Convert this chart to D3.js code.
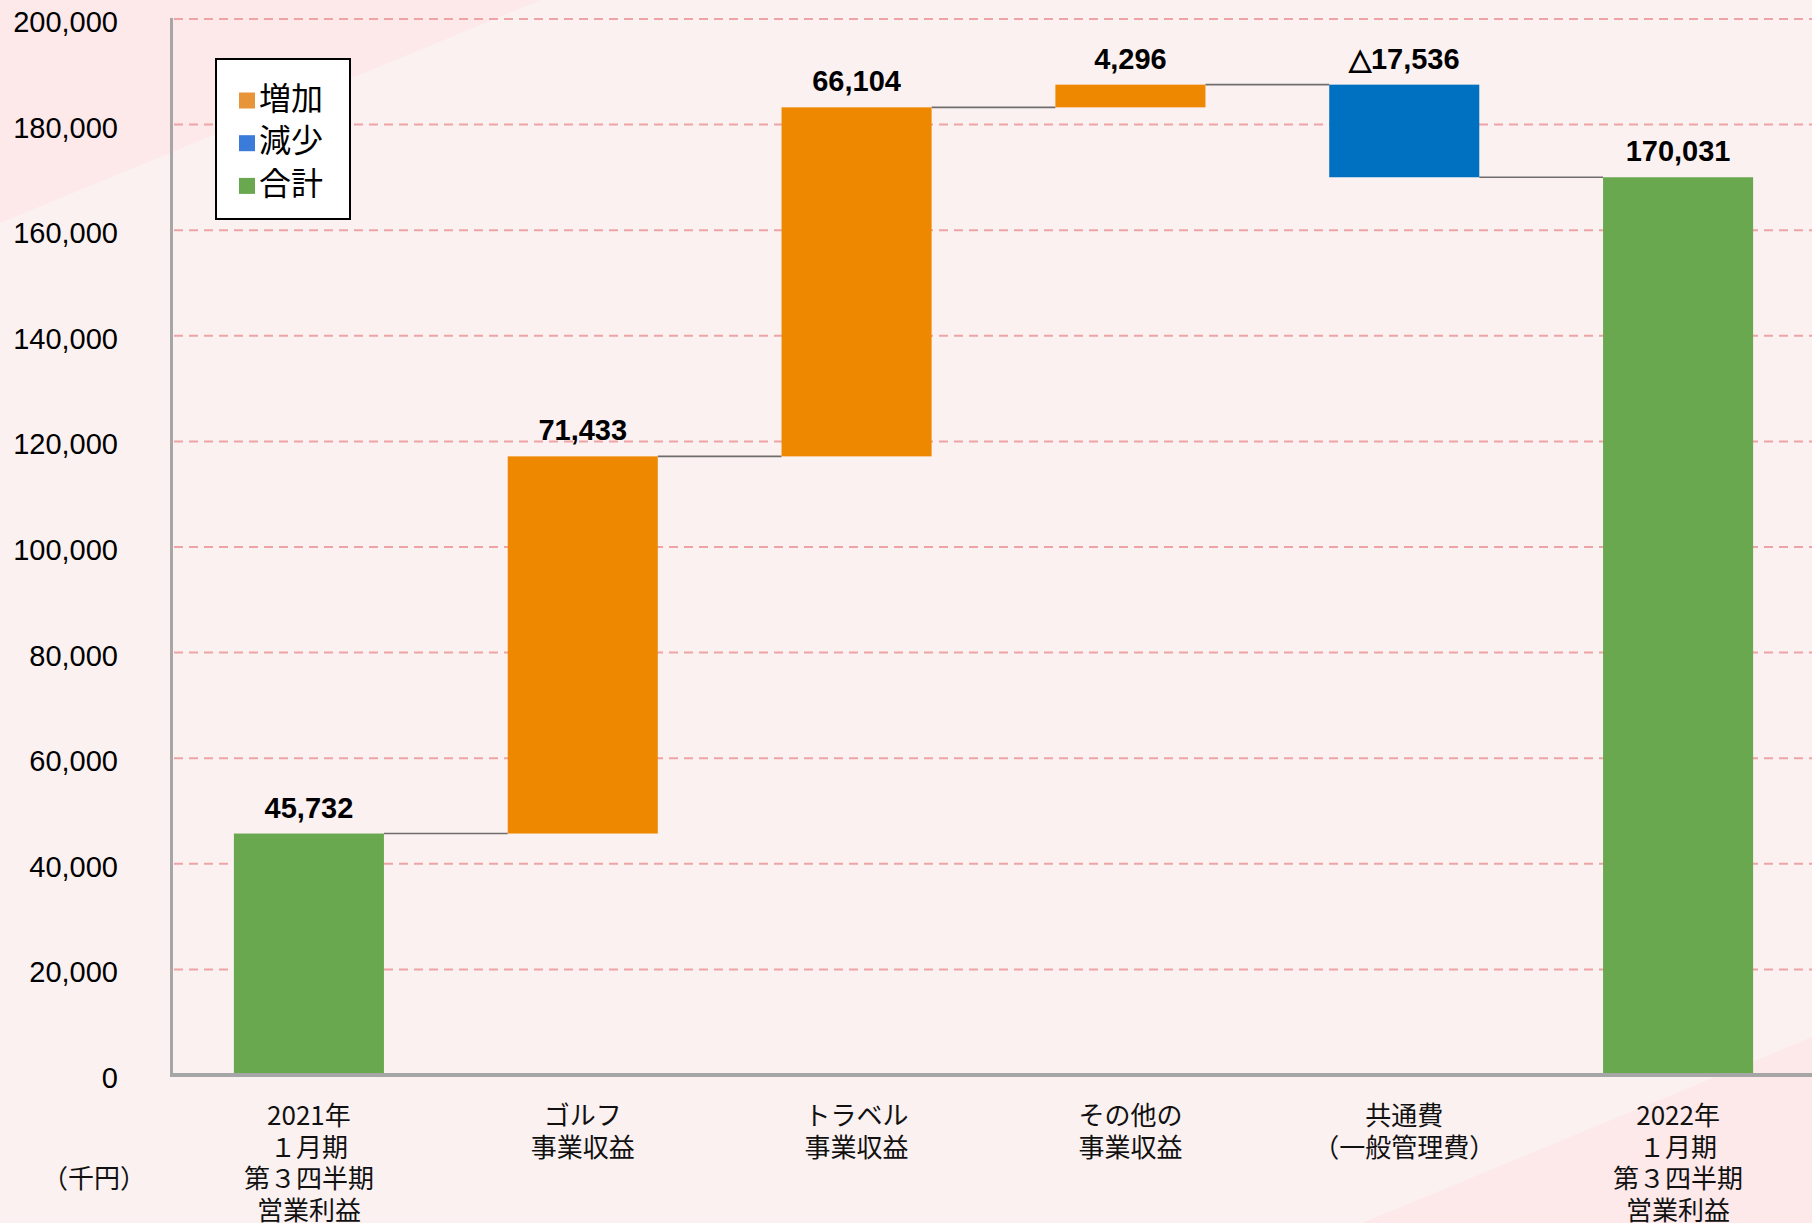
<!DOCTYPE html>
<html>
<head>
<meta charset="utf-8">
<script src="https://cdn.jsdelivr.net/npm/d3@7"></script>
<style>
  body { margin: 0; background: #fcf1f1; }
  svg { display: block; }
</style>
</head>
<body>
<svg width="1812" height="1223"></svg>
<script>
var categories = [
  ["2021年", "１月期", "第３四半期", "営業利益"],
  ["ゴルフ", "事業収益"],
  ["トラベル", "事業収益"],
  ["その他の", "事業収益"],
  ["共通費", "（一般管理費）"],
  ["2022年", "１月期", "第３四半期", "営業利益"]
];
var values = [45732, 71433, 66104, 4296, -17536, 170031];
var kinds = ["total", "up", "up", "up", "down", "total"];
var valueLabels = ["45,732", "71,433", "66,104", "4,296", "△17,536", "170,031"];
var yTicks = [0, 20000, 40000, 60000, 80000, 100000, 120000, 140000, 160000, 180000, 200000];
var legendNames = ["増加", "減少", "合計"];
var legendKinds = ["up", "down", "total"];

var svg = d3.select("svg"),
  width = +svg.attr("width"),
  height = +svg.attr("height");

var barColor = { up: "#ee8800", down: "#0070c0", total: "#6aa84f" };
var keyColor = { up: "#e8953a", down: "#3b7bd9", total: "#6aa84f" };

// background with pink corners
svg.append("rect").attr("width", width).attr("height", height).attr("fill", "#fcf1f1");
svg.append("path").attr("d", "M0,0L541,0L0,223Z").attr("fill", "#fde8ea");
svg.append("path").attr("d", "M1812,1223L1362,1223L1812,1037Z").attr("fill", "#fde8ea");

// running totals for the waterfall
var bars = [];
var run = 0;
values.forEach(function (v, i) {
  var lo, hi;
  if (kinds[i] == "total") {
    lo = 0; hi = v; run = v;
  } else {
    lo = run; hi = run + v; run = hi;
  }
  bars.push({ i: i, y0: Math.min(lo, hi), y1: Math.max(lo, hi), end: run, kind: kinds[i], label: valueLabels[i] });
});

var x = d3.scaleBand()
  .domain(d3.range(categories.length))
  .range([172, 1815])
  .paddingInner(0.452)
  .paddingOuter(0.226);

var y = d3.scaleLinear().domain([0, 200000]).range([1075, 19]);

// grid
svg.append("g")
  .selectAll("line")
  .data(yTicks.filter(function (d) { return d > 0; }))
  .enter()
  .append("line")
  .attr("x1", 174)
  .attr("x2", width)
  .attr("y1", function (d) { return y(d); })
  .attr("y2", function (d) { return y(d); })
  .attr("stroke", "#eea4a6")
  .attr("stroke-width", 2)
  .attr("stroke-dasharray", "9,6");

// y tick labels
svg.append("g")
  .selectAll("text")
  .data(yTicks)
  .enter()
  .append("text")
  .attr("x", 118)
  .attr("y", function (d) { return y(d); })
  .attr("dy", "0.45em")
  .attr("text-anchor", "end")
  .attr("font-family", "Liberation Sans, Arial, sans-serif")
  .attr("font-size", 29)
  .attr("fill", "#000")
  .text(d3.format(","));

// connectors
svg.append("g")
  .selectAll("line")
  .data(bars.slice(0, -1))
  .enter()
  .append("line")
  .attr("x1", function (d) { return x(d.i) + x.bandwidth(); })
  .attr("x2", function (d) { return x(d.i + 1); })
  .attr("y1", function (d) { return y(d.end); })
  .attr("y2", function (d) { return y(d.end); })
  .attr("stroke", "#6e6e6e")
  .attr("stroke-width", 1.6);

// bars
svg.append("g")
  .selectAll("rect")
  .data(bars)
  .enter()
  .append("rect")
  .attr("x", function (d) { return x(d.i); })
  .attr("width", x.bandwidth())
  .attr("y", function (d) { return y(d.y1); })
  .attr("height", function (d) { return y(d.y0) - y(d.y1); })
  .attr("fill", function (d) { return barColor[d.kind]; });

// value labels
svg.append("g")
  .selectAll("text")
  .data(bars)
  .enter()
  .append("text")
  .attr("x", function (d) { return x(d.i) + x.bandwidth() / 2; })
  .attr("y", function (d) { return y(d.y1) - 16; })
  .attr("text-anchor", "middle")
  .attr("font-family", "Liberation Sans, Arial, sans-serif")
  .attr("font-weight", "bold")
  .attr("font-size", 29)
  .attr("fill", "#000")
  .text(function (d) { return d.label; });

// axes lines
svg.append("line")
  .attr("x1", 171.5).attr("x2", 171.5)
  .attr("y1", 18).attr("y2", 1077)
  .attr("stroke", "#a6a6a6").attr("stroke-width", 3);
svg.append("line")
  .attr("x1", 170).attr("x2", width)
  .attr("y1", 1075).attr("y2", 1075)
  .attr("stroke", "#a6a6a6").attr("stroke-width", 4);

// category labels
var cat = svg.append("g")
  .selectAll("text")
  .data(categories)
  .enter()
  .append("text")
  .attr("text-anchor", "middle")
  .attr("font-family", "Noto Sans CJK JP, sans-serif")
  .attr("font-size", 26)
  .attr("fill", "#111");

cat.selectAll("tspan")
  .data(function (d, i) { return d.map(function (s) { return { s: s, i: i }; }); })
  .enter()
  .append("tspan")
  .attr("x", function (d) { return x(d.i) + x.bandwidth() / 2; })
  .attr("y", function (d, j) { return 1125 + j * 31.5; })
  .text(function (d) { return d.s; });

svg.append("text")
  .attr("x", 94)
  .attr("y", 1188)
  .attr("text-anchor", "middle")
  .attr("font-family", "Noto Sans CJK JP, sans-serif")
  .attr("font-size", 26)
  .attr("fill", "#111")
  .text("（千円）");

// legend
var legend = svg.append("g");
legend.append("rect")
  .attr("x", 216).attr("y", 59)
  .attr("width", 134).attr("height", 160)
  .attr("fill", "#fff")
  .attr("stroke", "#000")
  .attr("stroke-width", 2);

var rows = legend.selectAll("g")
  .data(legendNames)
  .enter()
  .append("g")
  .attr("transform", function (d, i) { return "translate(0," + (100.5 + i * 42.7) + ")"; });

rows.append("rect")
  .attr("x", 239).attr("y", -8)
  .attr("width", 16).attr("height", 16)
  .attr("fill", function (d, i) { return keyColor[legendKinds[i]]; });

rows.append("text")
  .attr("x", 259)
  .attr("y", 9)
  .attr("font-family", "Noto Sans CJK JP, sans-serif")
  .attr("font-size", 32)
  .attr("fill", "#000")
  .text(function (d) { return d; });
</script>
</body>
</html>
